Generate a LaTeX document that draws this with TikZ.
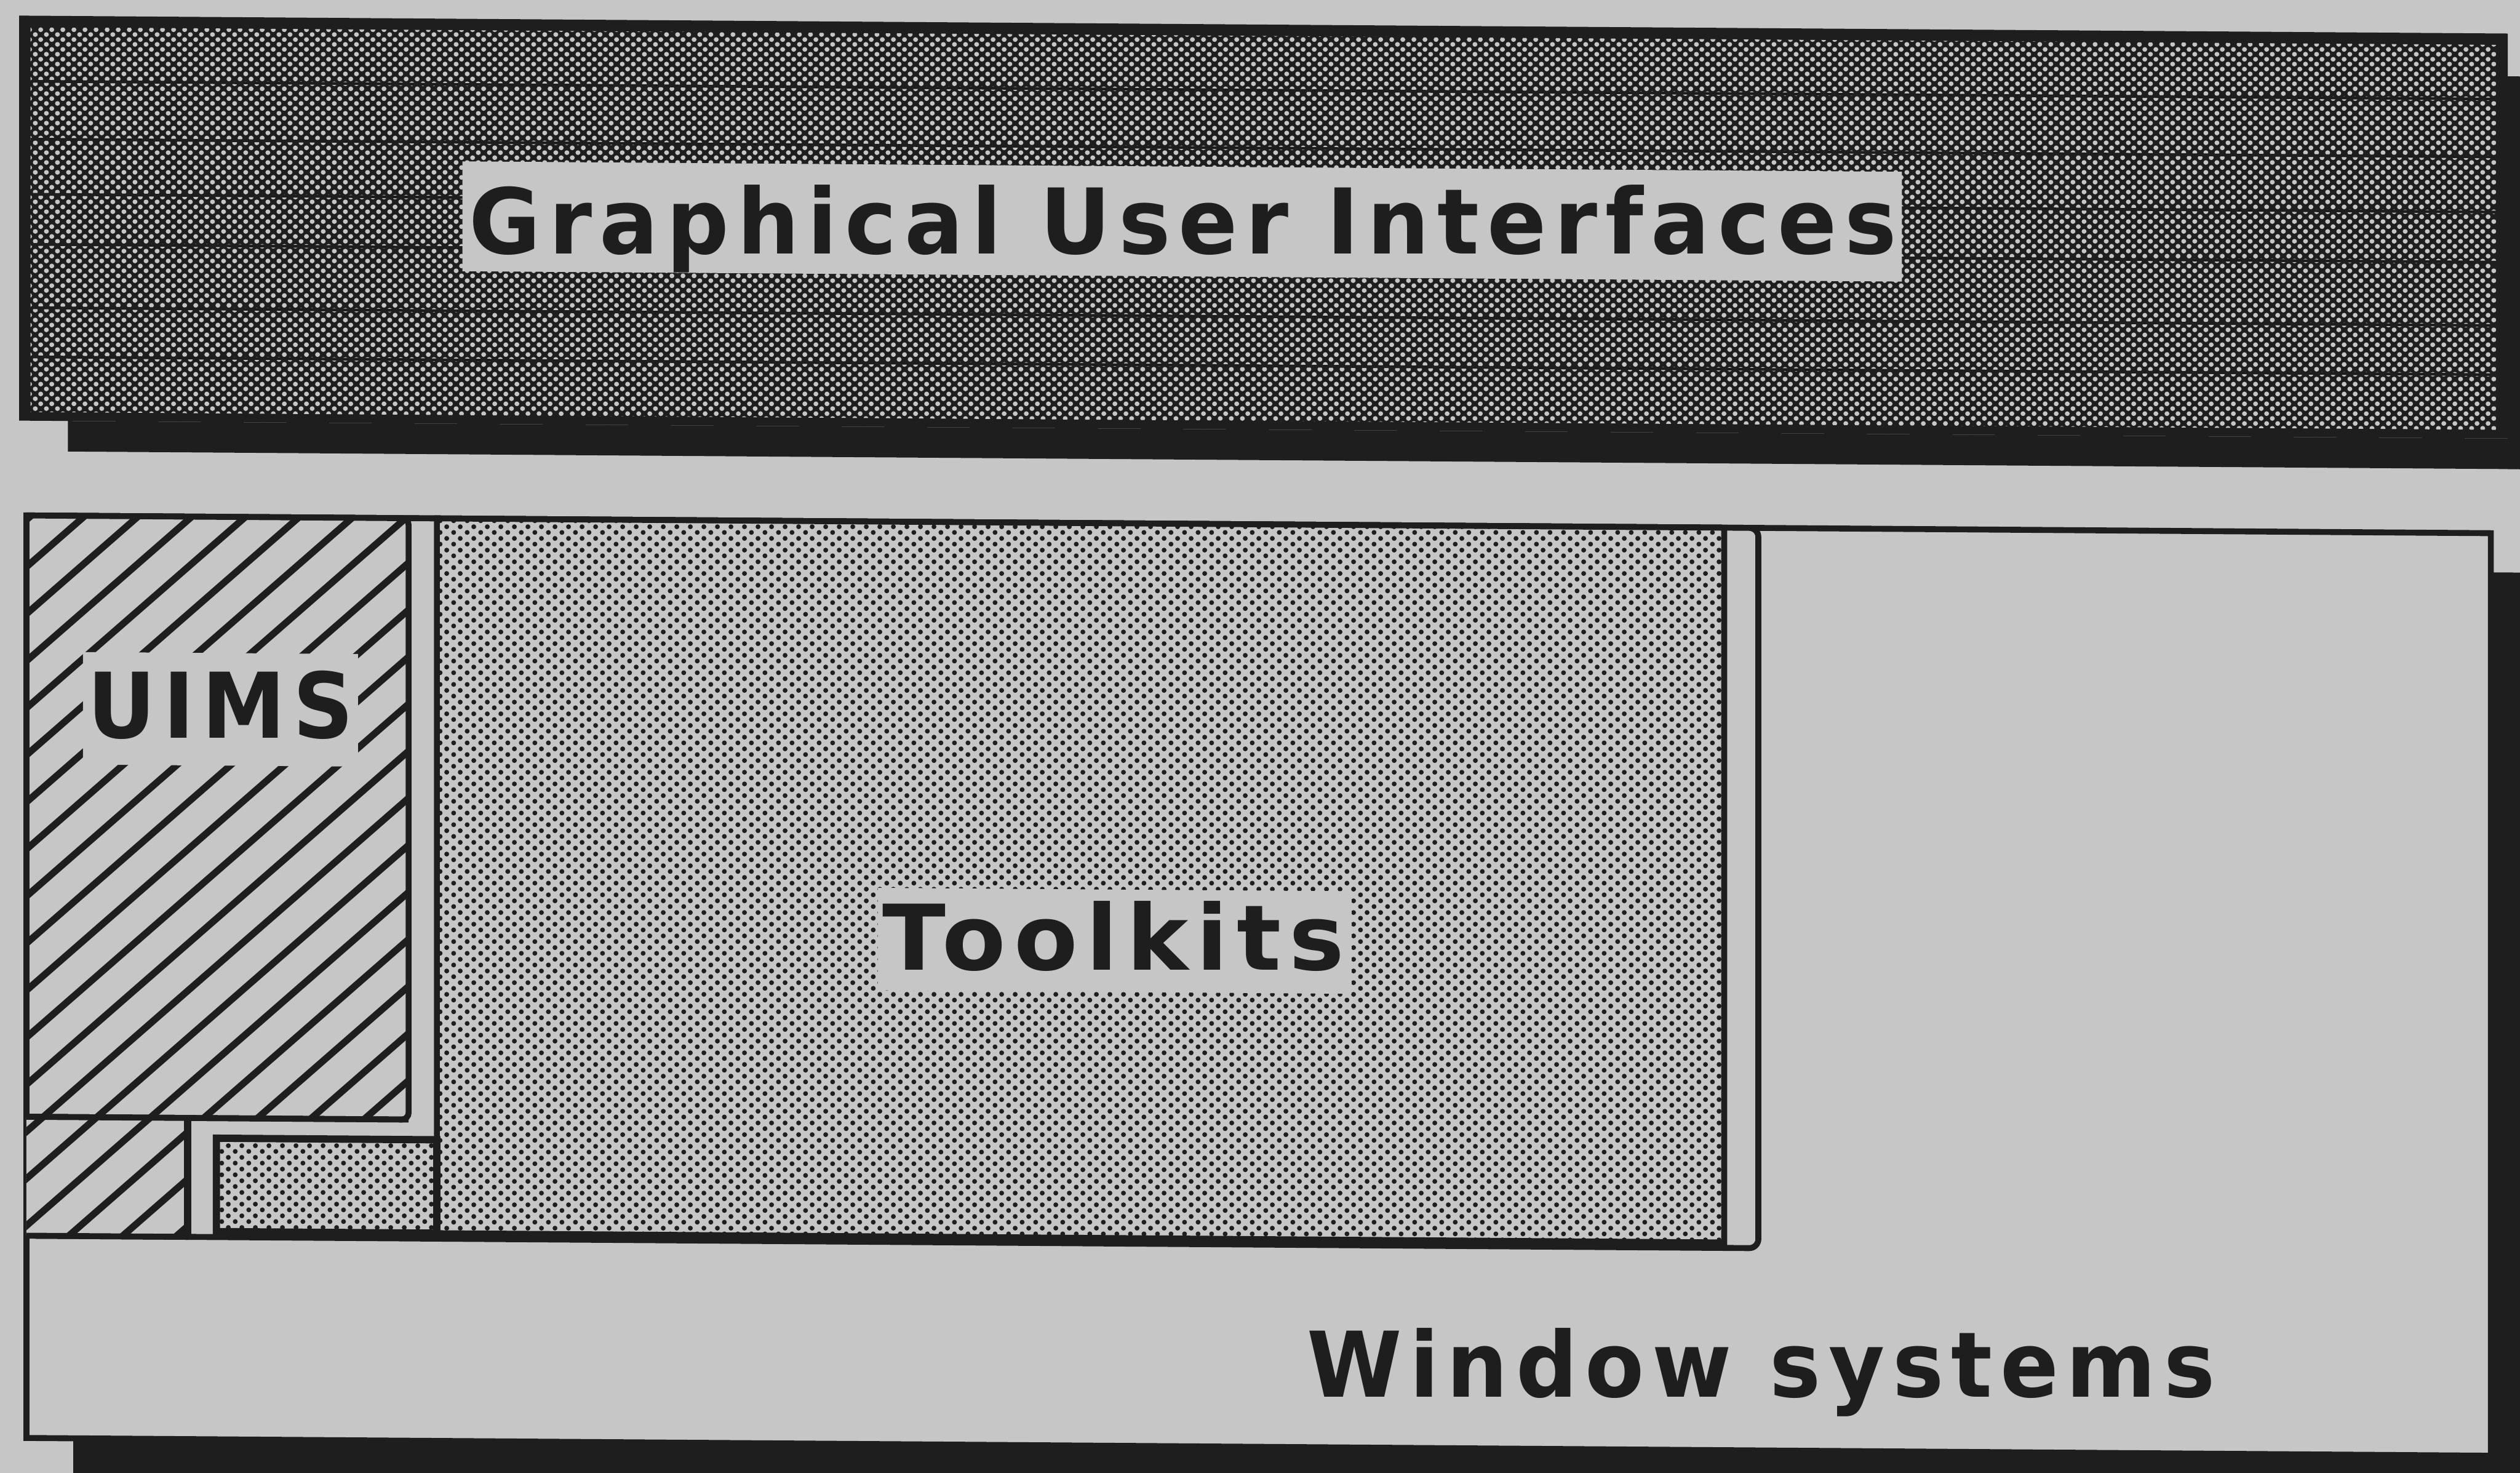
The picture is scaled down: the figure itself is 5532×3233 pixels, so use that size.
\documentclass[tikz,border=0pt]{standalone}
\usepackage{fontspec}
\usepackage{graphicx}
\setmainfont{DejaVu Sans}
\newfontfamily\lblfont{DejaVu Sans}[LetterSpace=9.0]
\usetikzlibrary{patterns.meta}

\definecolor{paper}{RGB}{198,198,198}
\definecolor{ink}{RGB}{30,30,30}

% dark halftone: light holes in a dark field
\tikzdeclarepattern{
  name=lightholes,
  type=uncolored,
  bounding box={(0pt,0pt) and (2.4pt,2.2pt)},
  tile size={(2.4pt,2.2pt)},
  code={
    \fill (0.6pt,0.55pt) circle (0.54pt);
    \fill (1.8pt,1.65pt) circle (0.54pt);
  }
}
% light halftone: staggered dark dots
\tikzdeclarepattern{
  name=finedots,
  type=uncolored,
  bounding box={(0pt,0pt) and (3.0pt,2.6pt)},
  tile size={(3.0pt,2.6pt)},
  code={
    \fill (0.75pt,0.65pt) circle (0.55pt);
    \fill (2.25pt,1.95pt) circle (0.55pt);
  }
}

% label text: fixed cap height, fitted to a given width
\newcommand{\lbl}[2]{{\lblfont\bfseries\fontsize{19.9pt}{24pt}\selectfont\resizebox{#1}{\height}{#2}}}

\begin{document}
\begin{tikzpicture}[x=0.1pt,y=-0.1pt,
  boxline/.style={draw=ink,line width=1.3pt},
  hatchline/.style={draw=ink,line width=1.5pt},
  dotted area/.style={boxline,preaction={fill=paper},pattern=finedots,pattern color=ink},
  label/.style={anchor=base,inner sep=0pt,text=ink}]

\useasboundingbox (0,0) rectangle (5532,3233);
\fill[paper] (0,0) rectangle (5532,3233);

\begin{scope}[yslant=-0.0072]

% ---------- Graphical User Interfaces ----------
% drop shadow
\fill[ink] (149,923) rectangle (5600,990);
\fill[ink] (5505,128) rectangle (5600,990);
% frame and dark halftone
\fill[ink] (42,34) rectangle (5505,923);
\fill[pattern=lightholes,pattern color=paper] (67,59) rectangle (5479,904);
\foreach \v in {178,305,426,536,675,783}
  \draw[ink,line width=0.6pt] (67,\v) -- (5479,\v);
% label
\fill[paper] (1015,347) rectangle (4175,588);
\node[label] (gui) at (2597,539) {\lbl{313.4pt}{Graphical User Interfaces}};

% ---------- Window systems ----------
\fill[ink] (161,3156) rectangle (5600,3320);
\fill[ink] (5468,1217) rectangle (5600,3320);
\draw[boxline,fill=paper] (58,1131) rectangle (5468,3156);

% ---------- Toolkits ----------
\draw[boxline,fill=paper,rounded corners=2pt] (58,1131) rectangle (3860,2712);
\draw[dotted area] (959,1131) rectangle (3785,2700);
\draw[dotted area,line width=1.6pt] (475,2495) rectangle (959,2700);

% ---------- UIMS ----------
\fill[paper] (58,1131) rectangle (897,2451);
\begin{scope}
  \clip (58,1131) rectangle (897,2451);
  \foreach \k in {-1,...,20}
    \draw[hatchline] (0,{1295+103.3*\k}) -- (1000,{1295+103.3*\k-880});
\end{scope}
\fill[paper] (182,1430) rectangle (786,1677);
\draw[boxline] (58,1131) -- (58,2451) -- (897,2451);
\draw[boxline,rounded corners=1.5pt] (58,1131) -- (897,1131) -- (897,2451) -- (58,2451);

\fill[paper] (58,2451) rectangle (412,2712);
\begin{scope}
  \clip (58,2451) rectangle (412,2712);
  \foreach \k in {8,...,20}
    \draw[hatchline] (0,{1295+103.3*\k}) -- (1000,{1295+103.3*\k-880});
\end{scope}
\draw[boxline] (58,2451) -- (412,2451);
\draw[boxline,line width=1.7pt] (412,2451) -- (412,2712);
\draw[boxline] (58,2712) -- (412,2712);

\node[label] (uims) at (484,1617) {\lbl{58.4pt}{UIMS}};

% toolkit label
\fill[paper] (1927,1935) rectangle (2967,2160);
\node[label] (toolkits) at (2445,2112) {\lbl{101.4pt}{Toolkits}};

% window systems label
\node[label] (winsys) at (3866,3039) {\lbl{199.4pt}{Window systems}};

\end{scope}
\end{tikzpicture}
\end{document}
